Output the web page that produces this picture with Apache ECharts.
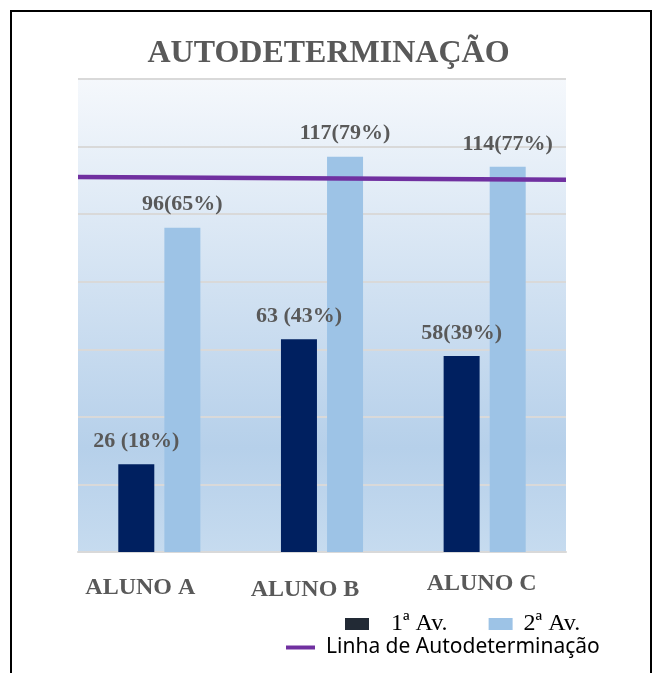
<!DOCTYPE html>
<html>
<head>
<meta charset="utf-8">
<script src="https://cdn.jsdelivr.net/npm/echarts@6/dist/echarts.min.js"></script>
<style>
html,body{margin:0;padding:0;background:#fff;}
#c{width:657px;height:673px;}
</style>
</head>
<body>
<div id="c"></div>
<script>
var categories = ['ALUNO A', 'ALUNO B', 'ALUNO C'];
var aval1 = [26, 63, 58];
var aval2 = [96, 117, 114];
var labels1 = ['26 (18%)', '63 (43%)', '58(39%)'];
var labels2 = ['96(65%)', '117(79%)', '114(77%)'];
var linhaValues = [111, 110.2];
var titleText = 'AUTODETERMINAÇÃO';
var seriesNames = ['1ª Av.', '2ª Av.', 'Linha de Autodeterminação'];

var chart = echarts.init(document.getElementById('c'), null, {renderer: 'canvas'});
var serif = '"Liberation Serif", "DejaVu Serif", serif';
var labelRich = {
  a: {fontFamily: serif, fontWeight: 'bold', fontSize: 24, color: '#595959', padding: [4, 38, 0, 0]},
  b: {fontFamily: serif, fontWeight: 'bold', fontSize: 24, color: '#595959', padding: [6, 34, 0, 0]},
  c: {fontFamily: serif, fontWeight: 'bold', fontSize: 24, color: '#595959', padding: [0, 6, 0, 0]}
};
var keys = ['a', 'b', 'c'];

chart.setOption({
  animation: false,
  backgroundColor: '#ffffff',
  title: {
    text: titleText,
    left: 'center',
    top: 33,
    textStyle: {fontFamily: serif, fontWeight: 'bold', fontSize: 32, color: '#595959'}
  },
  graphic: [{
    type: 'rect',
    shape: {x: 11, y: 11, width: 640, height: 700},
    style: {fill: 'none', stroke: '#000000', lineWidth: 2},
    silent: true
  }],
  legend: [{
    data: [
      {name: seriesNames[0], itemStyle: {color: '#222a35'},
       textStyle: {fontFamily: serif, fontSize: 24, color: '#000000', padding: [0, 0, 0, 17]}},
      {name: seriesNames[1], itemStyle: {color: '#9dc3e6'},
       textStyle: {fontFamily: serif, fontSize: 24, color: '#000000', padding: [0, 0, 0, 6]}}
    ],
    left: 345,
    top: 612,
    padding: 0,
    itemWidth: 24,
    itemHeight: 12,
    itemGap: 41,
    icon: 'rect',
    textStyle: {fontFamily: serif, fontSize: 24, color: '#000000'}
  }, {
    data: [seriesNames[2]],
    left: 286,
    top: 637,
    padding: 0,
    itemWidth: 29,
    itemHeight: 4,
    icon: 'rect',
    textStyle: {fontFamily: '"Noto Sans", sans-serif', fontSize: 21, color: '#000000', padding: [0, 0, 0, 6]}
  }],
  grid: {
    left: 78, right: 91, top: 79, bottom: 121,
    show: true,
    borderWidth: 0,
    backgroundColor: {
      type: 'linear', x: 0, y: 0, x2: 0, y2: 1,
      colorStops: [
        {offset: 0, color: '#f5f8fc'},
        {offset: 0.78, color: '#b6d0ea'},
        {offset: 1, color: '#c6dbef'}
      ]
    }
  },
  xAxis: [{
    type: 'category',
    data: categories,
    axisLine: {lineStyle: {color: '#d9d9d9', width: 2}},
    axisTick: {show: false},
    axisLabel: {
      margin: 20,
      formatter: function (v, i) { return '{' + keys[i] + '|' + v + '}'; },
      rich: labelRich
    }
  }, {
    type: 'category',
    data: ['', ''],
    boundaryGap: false,
    show: false
  }],
  yAxis: {
    type: 'value',
    min: 0,
    max: 140,
    interval: 20,
    axisLine: {show: false},
    axisTick: {show: false},
    axisLabel: {show: false},
    splitLine: {lineStyle: {color: '#d9d9d9', width: 2}}
  },
  series: [{
    name: seriesNames[0],
    type: 'bar',
    data: aval1,
    barWidth: 36,
    barGap: '28%',
    itemStyle: {color: '#002060'},
    label: {
      show: true, position: 'top', distance: 12,
      formatter: function (p) { return labels1[p.dataIndex]; },
      fontFamily: serif, fontWeight: 'bold', fontSize: 22, color: '#595959'
    }
  }, {
    name: seriesNames[1],
    type: 'bar',
    data: aval2,
    barWidth: 36,
    itemStyle: {color: '#9dc3e6'},
    label: {
      show: true, position: 'top', distance: 12,
      formatter: function (p) { return labels2[p.dataIndex]; },
      fontFamily: serif, fontWeight: 'bold', fontSize: 22, color: '#595959'
    }
  }, {
    name: seriesNames[2],
    type: 'line',
    xAxisIndex: 1,
    data: linhaValues,
    symbol: 'none',
    lineStyle: {color: '#7030a0', width: 4.5},
    itemStyle: {color: '#7030a0'},
    z: 5
  }]
});
</script>
</body>
</html>
